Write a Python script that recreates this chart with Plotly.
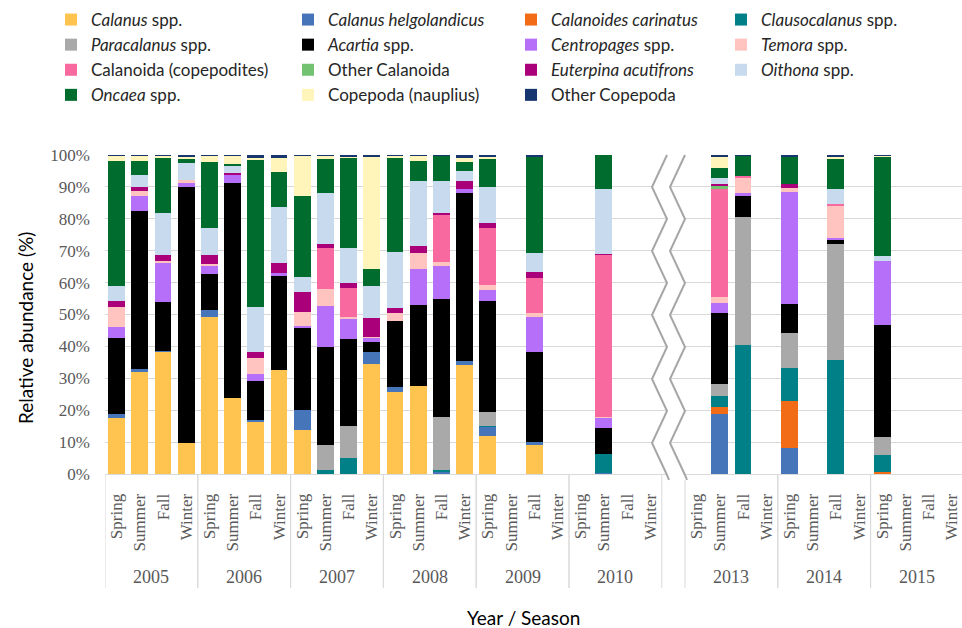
import plotly.graph_objects as go

# ---- categories -------------------------------------------------------------
years = ["2005", "2006", "2007", "2008", "2009", "2010", "2013", "2014", "2015"]
seasons = ["Spring", "Summer", "Fall", "Winter"]
categories = [f"{y} {s}" for y in years for s in seasons]

# ---- relative abundance (%) per taxon, one value per year/season -----------
calanus = [17.5, 32.1, 38.3, 9.8, 49.3, 23.7, 16.6, 32.6, 13.8, 0, 0, 34.4,
           25.6, 27.6, 0, 34.2, 11.9, 0, 9.4, 0, 0, 0, 0, 0,
           0, 0, 0, 0, 0, 0, 0, 0, 0, 0, 0, 0]
helgolandicus = [1.3, 0.8, 0.4, 0, 2.2, 0, 0.2, 0, 6.3, 0, 0, 3.9,
                 1.6, 0, 0.8, 1.3, 2.9, 0, 0.5, 0, 0, 0.3, 0, 0,
                 0, 18.7, 0, 0, 8.0, 0, 0, 0, 0, 0, 0, 0]
calanoides = [0, 0, 0, 0, 0, 0, 0, 0, 0, 0, 0, 0,
              0, 0, 0, 0, 0, 0, 0, 0, 0, 0, 0, 0,
              0, 2.4, 0, 0, 14.9, 0, 0, 0, 0.6, 0, 0, 0]
clausocalanus = [0, 0, 0, 0, 0, 0, 0, 0, 0, 1.3, 4.9, 0,
                 0, 0, 0.5, 0, 0.2, 0, 0, 0, 0, 5.9, 0, 0,
                 0, 3.5, 40.4, 0, 10.4, 0, 35.7, 0, 5.4, 0, 0, 0]
paracalanus = [0, 0, 0, 0, 0, 0, 0, 0, 0, 7.7, 10.3, 0,
               0, 0, 16.7, 0, 4.5, 0, 0, 0, 0, 0, 0, 0,
               0, 3.6, 40.3, 0, 10.8, 0, 36.3, 0, 5.5, 0, 0, 0]
acartia = [23.7, 49.6, 15.3, 80.3, 11.1, 67.6, 12.4, 29.5, 25.8, 30.8, 27.0, 3.0,
           20.9, 25.4, 36.9, 52.5, 34.7, 0, 28.2, 0, 0, 8.1, 0, 0,
           0, 22.4, 6.3, 0, 9.1, 0, 1.4, 0, 35.2, 0, 0, 0]
centropages = [3.6, 4.8, 12.4, 1.2, 2.7, 2.6, 2.0, 1.0, 0.5, 13.0, 6.4, 1.4,
               0, 11.3, 10.4, 1.2, 3.5, 0, 11.0, 0, 0, 3.5, 0, 0,
               0, 2.9, 1.0, 0, 35.3, 0, 0.7, 0, 20.2, 0, 0, 0]
temora = [6.3, 1.5, 0.5, 0.8, 0.5, 0, 5.3, 0, 4.5, 5.2, 0.5, 0.3,
          2.5, 5.1, 1.1, 0, 1.5, 0, 1.3, 0, 0, 0.2, 0, 0,
          0, 2.1, 5.0, 0, 1.1, 0, 10.2, 0, 0, 0, 0, 0]
copepodites = [0, 0, 0, 0, 0, 0, 0, 0, 0, 12.7, 9.3, 0,
               0, 0, 15.0, 0, 18.0, 0, 11.1, 0, 0, 50.7, 0, 0,
               0, 33.7, 0.5, 0, 0, 0, 0.4, 0, 0, 0, 0, 0]
other_calanoida = [0, 0, 0, 0, 0, 0, 0, 0, 0, 0, 0, 0,
                   0, 0, 0, 0, 0, 0, 0, 0, 0, 0, 0, 0,
                   0, 1.1, 0, 0, 0, 0, 0, 0, 0, 0, 0, 0]
euterpina = [1.8, 1.1, 1.8, 0, 2.9, 0.4, 1.6, 3.1, 6.2, 1.4, 1.4, 5.8,
             1.3, 2.1, 0.5, 2.8, 1.4, 0, 1.7, 0, 0, 0.3, 0, 0,
             0, 0.5, 0, 0, 1.2, 0, 0, 0, 0, 0, 0, 0]
oithona = [4.8, 3.8, 13.2, 5.3, 8.5, 2.3, 14.1, 17.4, 4.6, 15.9, 11.2, 10.2,
           17.8, 20.5, 10.0, 3.0, 11.3, 0, 6.2, 0, 0, 20.3, 0, 0,
           0, 2.0, 0, 0, 0, 0, 4.6, 0, 1.4, 0, 0, 0]
oncaea = [39.1, 4.4, 17.3, 1.3, 20.7, 0.6, 46.5, 11.0, 25.6, 10.7, 28.2, 5.2,
          29.5, 6.1, 7.8, 2.7, 8.8, 0, 30.1, 0, 0, 10.7, 0, 0,
          0, 3.1, 6.2, 0, 8.7, 0, 9.4, 0, 31.2, 0, 0, 0]
nauplius = [1.6, 1.6, 0.6, 0.9, 1.8, 2.5, 0.5, 4.6, 12.4, 1.0, 0.3, 35.1,
            0.5, 1.6, 0, 1.3, 0.8, 0, 0, 0, 0, 0, 0, 0,
            0, 3.3, 0, 0, 0, 0, 0.8, 0, 0.3, 0, 0, 0]
other_copepoda = [0.3, 0.3, 0.2, 0.4, 0.3, 0.3, 0.8, 0.8, 0.3, 0.3, 0.5, 0.7,
                  0.3, 0.3, 0.3, 1.0, 0.5, 0, 0.5, 0, 0, 0, 0, 0,
                  0, 0.7, 0.3, 0, 0.5, 0, 0.5, 0, 0.2, 0, 0, 0]

# name, values, colour, legend column
taxa = [
    ("<i>Calanus</i> spp.", calanus, "#FFC34F", 1),
    ("<i>Calanus helgolandicus</i>", helgolandicus, "#4676B9", 2),
    ("<i>Calanoides carinatus</i>", calanoides, "#F26B17", 3),
    ("<i>Clausocalanus</i> spp.", clausocalanus, "#028088", 4),
    ("<i>Paracalanus</i> spp.", paracalanus, "#A9A9A9", 1),
    ("<i>Acartia</i> spp.", acartia, "#000000", 2),
    ("<i>Centropages</i> spp.", centropages, "#B56FF8", 3),
    ("<i>Temora</i> spp.", temora, "#FFC4C0", 4),
    ("Calanoida (copepodites)", copepodites, "#F7699F", 1),
    ("Other Calanoida", other_calanoida, "#72C272", 2),
    ("<i>Euterpina acutifrons</i>", euterpina, "#AA007A", 3),
    ("<i>Oithona</i> spp.", oithona, "#C7DAEE", 4),
    ("<i>Oncaea</i> spp.", oncaea, "#006C2E", 1),
    ("Copepoda (nauplius)", nauplius, "#FFF5BA", 2),
    ("Other Copepoda", other_copepoda, "#17356F", 3),
]

SERIF = "Liberation Serif, Times New Roman, serif"
SANS = "Lato, Calibri, sans-serif"
GREY_TXT = "#595959"
GRID = "#D9D9D9"

# the axis keeps an empty slot between 2010 and 2013 for the time break
axis_categories = categories[:24] + [" "] + categories[24:]

fig = go.Figure()
for name, vals, color, col in taxa:
    fig.add_trace(go.Bar(
        x=categories, y=vals, name=name, width=0.72,
        legend="legend" if col == 1 else f"legend{col}",
        marker=dict(color=color, line=dict(width=0)),
    ))

W, H = 962, 628
ML, MR, MT, MB = 105, 0, 155, 154
PW, PH = W - ML - MR, H - MT - MB
SLOT = 23.2
x_max = -0.5 + PW / SLOT
AXIS_Y = H - MB


def px_to_paper(px, py):
    return (px - ML) / PW, (AXIS_Y - py) / PH


# year labels and year separators below the axis
annotations = []
shapes = []
slot_of = {c: i for i, c in enumerate(axis_categories)}
for yr in years:
    first = slot_of[f"{yr} Spring"]
    annotations.append(dict(
        x=first + 1.5, xref="x", y=(AXIS_Y - 577) / PH, yref="paper",
        text=yr, showarrow=False, xanchor="center", yanchor="middle",
        font=dict(family=SERIF, size=18, color=GREY_TXT)))
    for edge in (first - 0.5, first + 3.5):
        shapes.append(dict(type="line", xref="x", yref="paper",
                           x0=edge, x1=edge, y0=0, y1=(AXIS_Y - 588) / PH,
                           line=dict(color=GRID, width=1), layer="below"))

# axis titles
annotations.append(dict(
    x=(25 - ML) / PW, xref="paper", y=(AXIS_Y - 328) / PH, yref="paper",
    xanchor="center", yanchor="middle",
    text="Relative abundance (%)", textangle=-90, showarrow=False,
    font=dict(family=SANS, size=19, color="#000000")))
annotations.append(dict(
    x=(523 - ML) / PW, xref="paper", y=(AXIS_Y - 617) / PH, yref="paper",
    xanchor="center", yanchor="middle",
    text="Year / Season", showarrow=False,
    font=dict(family=SANS, size=19, color="#000000")))


# zig-zag break marks in the empty slot
def zigzag(x_right, x_left):
    pts = [(x_right, 155)]
    y = 155
    left = True
    while y < 444:
        y += 32
        pts.append((x_left if left else x_right, y))
        left = not left
    pts.append((x_right + 2, 480))
    return pts


z1 = zigzag(667, 652)
z2 = [(x + 18, y) for x, y in z1]


def to_path(points, close=False):
    parts = []
    for k, (x, y) in enumerate(points):
        xp, yp = px_to_paper(x, y)
        parts.append(("M" if k == 0 else "L") + f"{xp:.5f},{yp:.5f}")
    return " ".join(parts) + (" Z" if close else "")


shapes.append(dict(type="path", xref="paper", yref="paper",
                   path=to_path(z1 + z2[::-1], close=True),
                   fillcolor="white", line=dict(width=0), layer="above"))
for z in (z1, z2):
    shapes.append(dict(type="path", xref="paper", yref="paper",
                       path=to_path(z), line=dict(color="#A6A6A6", width=2),
                       layer="above"))


def legend_col(x_px):
    return dict(
        orientation="v", xref="container", yref="container",
        x=x_px / W, y=1 - 2 / H, xanchor="left", yanchor="top",
        traceorder="normal", font=dict(family=SANS, size=17, color="#262626"),
        bgcolor="rgba(0,0,0,0)", itemclick=False, itemdoubleclick=False,
    )


fig.update_layout(
    width=W, height=H,
    margin=dict(l=ML, r=MR, t=MT, b=MB, pad=0, autoexpand=False),
    barmode="stack",
    plot_bgcolor="white", paper_bgcolor="white",
    font=dict(family=SANS, size=17, color="#262626"),
    xaxis=dict(
        type="category", categoryorder="array", categoryarray=axis_categories,
        range=[-0.5, x_max], tickmode="array", tickvals=categories,
        ticktext=seasons * len(years), tickangle=-90, ticks="",
        ticklabelstandoff=12, automargin=False,
        tickfont=dict(family=SERIF, size=17, color=GREY_TXT),
        showgrid=False, showline=True, linecolor=GRID, linewidth=1,
        zeroline=False,
    ),
    yaxis=dict(
        range=[0, 100], tickmode="array", tickvals=list(range(0, 101, 10)),
        ticktext=[f"{v}%" for v in range(0, 101, 10)],
        tickfont=dict(family=SERIF, size=17, color=GREY_TXT),
        showgrid=True, gridcolor=GRID, gridwidth=1, zeroline=False,
        showline=False, ticks="", ticklabelstandoff=14, automargin=False,
    ),
    legend=legend_col(51),
    legend2=legend_col(288),
    legend3=legend_col(511),
    legend4=legend_col(721),
    annotations=annotations,
    shapes=shapes,
    showlegend=True,
)

fig.write_html("out.html")
